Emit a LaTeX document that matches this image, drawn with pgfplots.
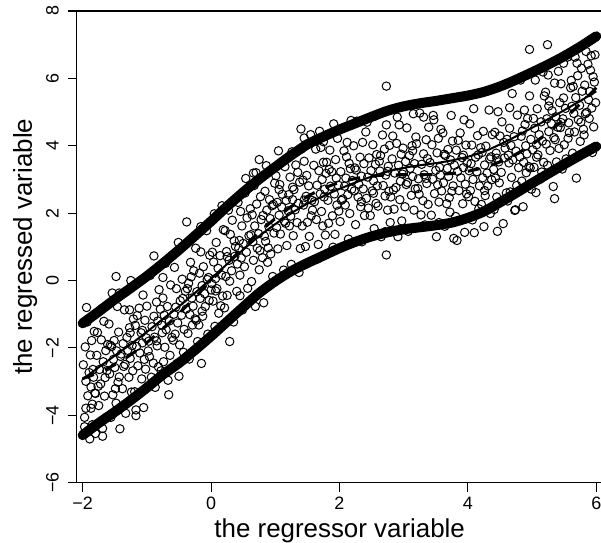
\documentclass[border=0pt]{standalone}
\usepackage{fontspec}
\setmainfont{Liberation Sans}
\usepackage{pgfplots}
\pgfplotsset{compat=1.18}
\begin{document}
\begin{tikzpicture}
\begin{axis}[
  scale only axis,
  width=526bp, height=471.7bp,
  xmin=-2.093, xmax=6.1, ymin=-6, ymax=8,
  axis line style={line width=1.1bp},
  xtick={-2,0,2,4,6}, xticklabels={−2,0,2,4,6},
  ytick={-6,-4,-2,0,2,4,6,8}, yticklabels={−6,−4,−2,0,2,4,6,8},
  tick align=outside, xtick pos=left, ytick pos=left,
  major tick length=9bp,
  tick style={line width=1.1bp, black},
  ticklabel style={font=\fontsize{18}{18}\selectfont},
  xticklabel style={anchor=north, inner sep=0pt, outer sep=0pt, yshift=-5bp},
  yticklabel style={rotate=90, anchor=south, inner sep=0pt, outer sep=9bp},
  xlabel={the regressor variable}, ylabel={the regressed variable},
  label style={font=\fontsize{26}{26}\selectfont},
  xlabel style={at={(axis description cs:0.5,-0.117)}, anchor=base},
  ylabel style={at={(axis description cs:-0.085,0.5)}, anchor=base},
]
\addplot[only marks, mark=o, mark size=4.2bp, mark options={line width=1bp, black}] table[row sep=\\] {
x y\\
-1.99 -2.50\\ -1.97 -4.06\\ -1.96 -1.97\\ -1.95 -2.99\\ -1.93 -1.23\\ -1.92 -3.42\\ -1.90 -2.73\\ -1.89 -4.70\\ -1.88 -2.21\\ -1.87 -3.16\\ -1.86 -1.78\\ -1.85 -3.67\\ -1.84 -2.64\\ -1.83 -2.87\\ -1.82 -1.51\\ -1.81 -3.34\\ -1.94 -0.80\\ -1.85 -4.28\\
-1.80 -3.35\\ -1.78 -2.22\\ -1.77 -1.54\\ -1.75 -3.71\\ -1.74 -2.64\\ -1.72 -3.07\\ -1.71 -1.76\\ -1.69 -4.62\\ -1.68 -2.41\\ -1.67 -1.21\\ -1.66 -3.43\\ -1.65 -2.88\\ -1.64 -2.08\\ -1.63 -4.06\\ -1.62 -2.67\\ -1.61 -1.90\\ -1.76 -3.14\\ -1.70 -0.83\\
-1.59 -1.29\\ -1.58 -2.77\\ -1.56 -4.06\\ -1.55 -1.96\\ -1.53 -3.39\\ -1.52 -2.34\\ -1.51 -1.78\\ -1.50 -2.58\\ -1.48 -3.64\\ -1.47 -2.09\\ -1.46 -0.77\\ -1.45 -3.02\\ -1.44 -1.53\\ -1.43 -2.86\\ -1.42 -4.40\\ -1.41 -2.25\\ -1.57 -1.92\\ -1.49 -3.21\\
-1.40 -2.18\\ -1.38 -3.21\\ -1.37 -1.87\\ -1.35 -0.87\\ -1.34 -2.49\\ -1.33 -3.94\\ -1.31 -1.69\\ -1.30 -2.07\\ -1.28 -2.87\\ -1.27 -1.40\\ -1.26 -2.31\\ -1.25 0.00\\ -1.24 -3.31\\ -1.23 -1.93\\ -1.22 -2.68\\ -1.21 -1.14\\ -1.36 -2.55\\ -1.26 -1.55\\
-1.19 -3.30\\ -1.18 -1.33\\ -1.16 -1.96\\ -1.15 -1.04\\ -1.14 -2.53\\ -1.12 -0.82\\ -1.11 -2.15\\ -1.09 -1.55\\ -1.08 -2.92\\ -1.07 -1.85\\ -1.06 -0.43\\ -1.05 -3.77\\ -1.04 -2.34\\ -1.03 -1.18\\ -1.02 -2.63\\ -1.01 -1.70\\ -1.17 -4.01\\ -1.07 -1.48\\
-1.00 -0.76\\ -0.98 -2.09\\ -0.97 -1.80\\ -0.95 0.15\\ -0.93 -2.87\\ -0.92 -1.37\\ -0.90 -2.45\\ -0.89 -1.06\\ -0.88 -1.68\\ -0.87 -3.17\\ -0.85 -0.64\\ -0.84 -1.94\\ -0.83 -1.20\\ -0.82 -2.56\\ -0.81 -0.27\\ -0.96 -2.26\\ -0.89 0.73\\ -0.85 -1.79\\
-0.61 -1.69\\ -0.63 -0.13\\ -0.64 -2.22\\ -0.65 -1.20\\ -0.67 -2.96\\ -0.68 -0.77\\ -0.70 -1.46\\ -0.71 0.51\\ -0.72 -1.98\\ -0.73 -1.03\\ -0.74 -2.41\\ -0.75 -0.52\\ -0.76 -1.55\\ -0.77 -1.32\\ -0.78 -2.68\\ -0.79 -0.85\\ -0.66 -3.39\\ -0.75 0.09\\
-0.40 -0.32\\ -0.42 -1.45\\ -0.43 -2.13\\ -0.45 0.04\\ -0.46 -1.03\\ -0.48 -0.60\\ -0.49 -1.91\\ -0.51 1.13\\ -0.52 -1.26\\ -0.53 -2.46\\ -0.54 -0.24\\ -0.55 -0.79\\ -0.56 -1.59\\ -0.57 0.39\\ -0.58 -1.00\\ -0.59 -1.77\\ -0.44 -0.53\\ -0.50 -2.84\\
-0.21 -1.81\\ -0.22 -0.33\\ -0.24 0.96\\ -0.25 -1.14\\ -0.27 0.29\\ -0.28 -0.76\\ -0.29 -1.32\\ -0.30 -0.52\\ -0.32 0.54\\ -0.33 -1.01\\ -0.34 -2.33\\ -0.35 -0.08\\ -0.36 -1.57\\ -0.37 -0.24\\ -0.38 1.74\\ -0.39 -0.85\\ -0.23 -1.18\\ -0.31 0.11\\
0.00 -0.28\\ -0.02 0.75\\ -0.03 -0.59\\ -0.05 -1.59\\ -0.06 0.03\\ -0.07 1.48\\ -0.09 -0.77\\ -0.10 -0.39\\ -0.12 0.41\\ -0.13 -1.06\\ -0.14 -0.15\\ -0.15 -2.46\\ -0.16 0.85\\ -0.17 -0.53\\ -0.18 0.22\\ -0.19 -1.32\\ -0.04 0.09\\ -0.14 -0.91\\
0.19 1.51\\ 0.18 -0.46\\ 0.16 0.17\\ 0.15 -0.75\\ 0.14 0.74\\ 0.12 -0.97\\ 0.11 0.36\\ 0.09 -0.24\\ 0.08 1.13\\ 0.07 0.06\\ 0.06 -1.36\\ 0.05 1.98\\ 0.04 0.55\\ 0.03 -0.61\\ 0.02 0.84\\ 0.01 -0.09\\ 0.17 2.22\\ 0.07 -0.31\\
0.40 -0.32\\ 0.38 1.01\\ 0.37 0.72\\ 0.35 -1.23\\ 0.33 1.79\\ 0.32 0.29\\ 0.30 1.37\\ 0.29 -0.02\\ 0.28 0.60\\ 0.27 2.09\\ 0.25 -0.44\\ 0.24 0.86\\ 0.23 0.12\\ 0.22 1.48\\ 0.21 -0.81\\ 0.36 1.18\\ 0.29 -1.81\\ 0.25 0.71\\
0.59 1.33\\ 0.57 -0.23\\ 0.56 1.86\\ 0.55 0.84\\ 0.53 2.60\\ 0.52 0.41\\ 0.50 1.10\\ 0.49 -0.87\\ 0.48 1.62\\ 0.47 0.67\\ 0.46 2.05\\ 0.45 0.16\\ 0.44 1.19\\ 0.43 0.96\\ 0.42 2.32\\ 0.41 0.49\\ 0.54 3.03\\ 0.45 -0.45\\
0.80 0.68\\ 0.78 1.81\\ 0.77 2.49\\ 0.75 0.32\\ 0.74 1.39\\ 0.72 0.96\\ 0.71 2.27\\ 0.69 -0.77\\ 0.68 1.62\\ 0.67 2.82\\ 0.66 0.60\\ 0.65 1.15\\ 0.64 1.95\\ 0.63 -0.03\\ 0.62 1.36\\ 0.61 2.13\\ 0.76 0.89\\ 0.70 3.20\\
0.99 2.89\\ 0.98 1.41\\ 0.96 0.12\\ 0.95 2.22\\ 0.93 0.79\\ 0.92 1.84\\ 0.91 2.40\\ 0.90 1.60\\ 0.88 0.54\\ 0.87 2.09\\ 0.86 3.41\\ 0.85 1.16\\ 0.84 2.65\\ 0.83 1.32\\ 0.82 -0.66\\ 0.81 1.93\\ 0.97 2.26\\ 0.89 0.97\\
1.20 2.07\\ 1.18 1.04\\ 1.17 2.38\\ 1.15 3.38\\ 1.14 1.76\\ 1.13 0.31\\ 1.11 2.56\\ 1.10 2.18\\ 1.08 1.38\\ 1.07 2.85\\ 1.06 1.94\\ 1.05 3.85\\ 1.04 0.94\\ 1.03 2.32\\ 1.02 1.57\\ 1.01 3.11\\ 1.16 1.70\\ 1.06 2.70\\
1.39 0.95\\ 1.38 2.92\\ 1.36 2.29\\ 1.35 3.21\\ 1.34 1.72\\ 1.32 3.43\\ 1.31 2.10\\ 1.29 2.70\\ 1.28 1.33\\ 1.27 2.40\\ 1.26 3.82\\ 1.25 0.48\\ 1.24 1.91\\ 1.23 3.07\\ 1.22 1.62\\ 1.21 2.55\\ 1.37 0.24\\ 1.27 2.77\\
1.60 3.42\\ 1.58 2.09\\ 1.57 2.38\\ 1.55 4.33\\ 1.53 1.31\\ 1.52 2.81\\ 1.50 1.73\\ 1.49 3.12\\ 1.48 2.50\\ 1.47 1.01\\ 1.45 3.54\\ 1.44 2.24\\ 1.43 2.98\\ 1.42 1.62\\ 1.41 3.91\\ 1.56 1.92\\ 1.49 4.05\\ 1.45 2.39\\
1.61 2.34\\ 1.63 3.90\\ 1.64 1.81\\ 1.65 2.83\\ 1.67 1.07\\ 1.68 3.26\\ 1.70 2.57\\ 1.71 3.95\\ 1.72 2.05\\ 1.73 3.00\\ 1.74 1.62\\ 1.75 3.51\\ 1.76 2.48\\ 1.77 2.71\\ 1.78 1.35\\ 1.79 3.18\\ 1.66 0.64\\ 1.75 4.12\\
1.80 3.51\\ 1.82 2.38\\ 1.83 1.70\\ 1.85 3.87\\ 1.86 2.80\\ 1.88 3.23\\ 1.89 1.92\\ 1.91 4.65\\ 1.92 2.57\\ 1.93 1.37\\ 1.94 3.59\\ 1.95 3.04\\ 1.96 2.24\\ 1.97 4.22\\ 1.98 2.83\\ 1.99 2.06\\ 1.84 3.30\\ 1.90 0.99\\
2.01 1.75\\ 2.02 3.23\\ 2.04 4.52\\ 2.05 2.42\\ 2.07 3.85\\ 2.08 2.80\\ 2.09 2.24\\ 2.10 3.04\\ 2.12 4.10\\ 2.13 2.55\\ 2.14 1.23\\ 2.15 3.48\\ 2.16 1.99\\ 2.17 3.32\\ 2.18 4.75\\ 2.19 2.71\\ 2.03 2.38\\ 2.11 3.67\\
2.20 2.97\\ 2.22 4.00\\ 2.23 2.66\\ 2.25 1.66\\ 2.26 3.28\\ 2.27 4.73\\ 2.29 2.48\\ 2.30 2.86\\ 2.32 3.66\\ 2.33 2.19\\ 2.34 3.10\\ 2.35 1.15\\ 2.36 4.10\\ 2.37 2.72\\ 2.38 3.47\\ 2.39 1.93\\ 2.24 3.34\\ 2.34 2.34\\
2.41 4.41\\ 2.42 2.44\\ 2.44 3.07\\ 2.45 2.15\\ 2.46 3.64\\ 2.48 1.93\\ 2.49 3.26\\ 2.51 2.66\\ 2.52 4.03\\ 2.53 2.96\\ 2.54 1.54\\ 2.55 4.88\\ 2.56 3.45\\ 2.57 2.29\\ 2.58 3.74\\ 2.59 2.81\\ 2.43 4.70\\ 2.53 2.59\\
2.60 2.21\\ 2.62 3.54\\ 2.63 3.25\\ 2.65 1.30\\ 2.67 4.32\\ 2.68 2.82\\ 2.70 3.90\\ 2.71 2.51\\ 2.72 3.13\\ 2.73 4.62\\ 2.75 2.09\\ 2.76 3.39\\ 2.77 2.65\\ 2.78 4.01\\ 2.79 1.72\\ 2.64 3.71\\ 2.71 1.45\\ 2.75 3.24\\
2.80 2.48\\ 2.82 3.61\\ 2.83 4.29\\ 2.85 2.12\\ 2.86 3.19\\ 2.88 2.76\\ 2.89 4.07\\ 2.91 1.30\\ 2.92 3.42\\ 2.93 4.62\\ 2.94 2.40\\ 2.95 2.95\\ 2.96 3.75\\ 2.97 1.77\\ 2.98 3.16\\ 2.99 3.93\\ 2.84 2.69\\ 2.90 4.85\\
3.00 3.22\\ 3.02 2.19\\ 3.03 3.53\\ 3.05 4.53\\ 3.06 2.91\\ 3.07 1.46\\ 3.09 3.71\\ 3.10 3.33\\ 3.12 2.53\\ 3.13 4.00\\ 3.14 3.09\\ 3.15 4.95\\ 3.16 2.09\\ 3.17 3.47\\ 3.18 2.72\\ 3.19 4.26\\ 3.04 2.85\\ 3.14 3.85\\
3.20 4.06\\ 3.22 2.73\\ 3.23 3.02\\ 3.25 4.97\\ 3.27 1.95\\ 3.28 3.45\\ 3.30 2.37\\ 3.31 3.76\\ 3.32 3.14\\ 3.33 1.65\\ 3.35 4.18\\ 3.36 2.88\\ 3.37 3.62\\ 3.38 2.26\\ 3.39 4.55\\ 3.24 2.56\\ 3.31 4.85\\ 3.35 3.03\\
3.41 3.50\\ 3.43 1.94\\ 3.44 4.03\\ 3.45 3.01\\ 3.47 4.77\\ 3.48 2.58\\ 3.50 3.27\\ 3.51 1.30\\ 3.52 3.79\\ 3.53 2.84\\ 3.54 4.22\\ 3.55 2.33\\ 3.56 3.36\\ 3.57 3.13\\ 3.58 4.49\\ 3.59 2.66\\ 3.46 4.90\\ 3.55 1.72\\
3.61 4.38\\ 3.62 2.90\\ 3.64 1.61\\ 3.65 3.71\\ 3.67 2.28\\ 3.68 3.33\\ 3.69 3.89\\ 3.70 3.09\\ 3.72 2.03\\ 3.73 3.58\\ 3.74 4.90\\ 3.75 2.65\\ 3.76 4.14\\ 3.77 2.81\\ 3.78 1.25\\ 3.79 3.42\\ 3.63 3.75\\ 3.71 2.46\\
3.81 1.90\\ 3.82 3.87\\ 3.84 3.24\\ 3.85 4.16\\ 3.86 2.67\\ 3.88 4.38\\ 3.89 3.05\\ 3.91 3.65\\ 3.92 2.28\\ 3.93 3.35\\ 3.94 4.77\\ 3.95 1.43\\ 3.96 2.86\\ 3.97 4.02\\ 3.98 2.57\\ 3.99 3.50\\ 3.83 1.19\\ 3.93 3.72\\
4.20 3.94\\ 4.18 2.81\\ 4.17 2.13\\ 4.15 4.30\\ 4.14 3.23\\ 4.12 3.66\\ 4.11 2.35\\ 4.09 5.10\\ 4.08 3.00\\ 4.07 1.80\\ 4.06 4.02\\ 4.05 3.47\\ 4.04 2.67\\ 4.03 4.65\\ 4.02 3.26\\ 4.01 2.49\\ 4.16 3.73\\ 4.10 1.42\\
4.40 3.30\\ 4.38 4.33\\ 4.37 2.99\\ 4.35 1.99\\ 4.34 3.61\\ 4.33 5.06\\ 4.31 2.81\\ 4.30 3.19\\ 4.28 3.99\\ 4.27 2.52\\ 4.26 3.43\\ 4.25 1.60\\ 4.24 4.43\\ 4.23 3.05\\ 4.22 3.80\\ 4.21 2.26\\ 4.36 3.67\\ 4.26 2.67\\
4.60 2.60\\ 4.58 3.93\\ 4.57 3.64\\ 4.55 1.69\\ 4.53 4.71\\ 4.52 3.21\\ 4.50 4.29\\ 4.49 2.90\\ 4.48 3.52\\ 4.47 5.01\\ 4.45 2.48\\ 4.44 3.78\\ 4.43 3.04\\ 4.42 4.40\\ 4.41 2.11\\ 4.56 4.10\\ 4.46 1.46\\ 4.45 3.63\\
4.79 3.35\\ 4.77 4.91\\ 4.76 2.82\\ 4.75 3.84\\ 4.73 2.08\\ 4.72 4.27\\ 4.70 3.58\\ 4.69 5.55\\ 4.68 3.06\\ 4.67 4.01\\ 4.66 2.63\\ 4.65 4.52\\ 4.64 3.49\\ 4.63 3.72\\ 4.62 2.36\\ 4.61 4.19\\ 4.74 2.10\\ 4.65 5.13\\
4.99 2.71\\ 4.98 4.19\\ 4.96 5.48\\ 4.95 3.38\\ 4.93 4.81\\ 4.92 3.76\\ 4.91 3.20\\ 4.90 4.00\\ 4.88 5.06\\ 4.87 3.51\\ 4.86 2.19\\ 4.85 4.44\\ 4.84 2.95\\ 4.83 4.28\\ 4.82 5.95\\ 4.81 3.67\\ 4.97 3.34\\ 4.89 4.63\\
5.19 5.48\\ 5.18 3.51\\ 5.16 4.14\\ 5.15 3.22\\ 5.14 4.71\\ 5.12 3.00\\ 5.11 4.33\\ 5.09 3.73\\ 5.08 5.10\\ 5.07 4.03\\ 5.06 2.61\\ 5.05 5.95\\ 5.04 4.52\\ 5.03 3.36\\ 5.02 4.81\\ 5.01 3.88\\ 5.17 6.19\\ 5.07 3.66\\
5.40 4.55\\ 5.38 3.52\\ 5.37 4.86\\ 5.35 5.86\\ 5.34 4.24\\ 5.33 2.79\\ 5.31 5.04\\ 5.30 4.66\\ 5.28 3.86\\ 5.27 5.33\\ 5.26 4.42\\ 5.25 6.10\\ 5.24 3.42\\ 5.23 4.80\\ 5.22 4.05\\ 5.21 5.59\\ 5.36 4.18\\ 5.26 5.18\\
5.60 5.72\\ 5.58 4.39\\ 5.57 4.68\\ 5.55 6.63\\ 5.53 3.61\\ 5.52 5.11\\ 5.50 4.03\\ 5.49 5.42\\ 5.48 4.80\\ 5.47 3.31\\ 5.45 5.84\\ 5.44 4.54\\ 5.43 5.28\\ 5.42 3.92\\ 5.41 6.21\\ 5.56 4.22\\ 5.49 6.45\\ 5.45 4.69\\
5.80 4.49\\ 5.78 5.62\\ 5.77 6.30\\ 5.75 4.13\\ 5.74 5.20\\ 5.72 4.77\\ 5.71 6.08\\ 5.69 3.04\\ 5.68 5.43\\ 5.67 6.63\\ 5.66 4.41\\ 5.65 4.96\\ 5.64 5.76\\ 5.63 3.78\\ 5.62 5.17\\ 5.61 5.94\\ 5.76 4.70\\ 5.70 6.45\\
5.81 4.32\\ 5.82 5.80\\ 5.84 6.80\\ 5.85 4.99\\ 5.87 6.42\\ 5.88 5.37\\ 5.89 4.81\\ 5.90 5.61\\ 5.92 6.67\\ 5.93 5.12\\ 5.94 3.80\\ 5.95 6.05\\ 5.96 4.56\\ 5.97 5.89\\ 5.98 6.70\\ 5.99 5.28\\ 5.83 4.95\\ 5.91 6.24\\
4.96 6.86\\ 5.24 7.00\\ 2.73 5.77\\ 1.40 4.50\\ 1.69 4.43\\ 1.45 4.23\\ 0.75 3.59\\ 0.66 3.19\\ -0.16 1.60\\ -1.48 0.12\\ -1.54 -0.37\\ -1.43 -0.37\\ -1.27 -0.87\\ -1.17 -3.84\\ -1.95 -3.79\\ -1.87 -3.79\\ -1.80 -4.54\\ -1.69 -4.39\\ -1.97 -4.34\\ 5.35 2.43\\ 2.73 0.76\\
};
% upper band
\addplot[black, line width=10bp, smooth, line cap=round] table[row sep=\\] {
x y\\ -2.00 -1.27\\ -1.75 -0.92\\ -1.50 -0.56\\ -1.25 -0.22\\ -1.00 0.13\\ -0.75 0.51\\ -0.50 0.91\\ -0.25 1.33\\ 0.00 1.76\\ 0.25 2.20\\ 0.50 2.62\\ 0.75 3.01\\ 1.00 3.37\\ 1.25 3.72\\ 1.50 4.04\\ 1.75 4.27\\ 2.00 4.48\\ 2.25 4.67\\ 2.50 4.86\\ 2.75 5.04\\ 3.00 5.17\\ 3.25 5.26\\ 3.50 5.33\\ 3.75 5.41\\ 4.00 5.49\\ 4.25 5.60\\ 4.50 5.76\\ 4.75 5.96\\ 5.00 6.18\\ 5.25 6.41\\ 5.50 6.66\\ 5.75 6.94\\ 6.00 7.25\\
};
% lower band
\addplot[black, line width=10bp, smooth, line cap=round] table[row sep=\\] {
x y\\ -2.00 -4.59\\ -1.75 -4.23\\ -1.50 -3.90\\ -1.25 -3.55\\ -1.00 -3.18\\ -0.75 -2.79\\ -0.50 -2.45\\ -0.25 -2.06\\ 0.00 -1.65\\ 0.25 -1.22\\ 0.50 -0.79\\ 0.75 -0.37\\ 1.00 -0.02\\ 1.25 0.28\\ 1.50 0.52\\ 1.75 0.74\\ 2.00 0.96\\ 2.25 1.15\\ 2.50 1.31\\ 2.75 1.43\\ 3.00 1.52\\ 3.25 1.58\\ 3.50 1.64\\ 3.75 1.72\\ 4.00 1.86\\ 4.25 2.05\\ 4.50 2.32\\ 4.75 2.60\\ 5.00 2.89\\ 5.25 3.17\\ 5.50 3.45\\ 5.75 3.72\\ 6.00 3.98\\
};
% estimated curve
\addplot[black, line width=2bp, smooth] table[row sep=\\] {
x y\\ -2.00 -2.93\\ -1.75 -2.575\\ -1.50 -2.23\\ -1.25 -1.885\\ -1.00 -1.525\\ -0.75 -1.14\\ -0.50 -0.77\\ -0.25 -0.365\\ 0.00 0.055\\ 0.25 0.49\\ 0.50 0.915\\ 0.75 1.32\\ 1.00 1.675\\ 1.25 2.00\\ 1.50 2.28\\ 1.75 2.505\\ 2.00 2.72\\ 2.25 2.91\\ 2.50 3.085\\ 2.75 3.235\\ 3.00 3.345\\ 3.25 3.42\\ 3.50 3.485\\ 3.75 3.565\\ 4.00 3.675\\ 4.25 3.825\\ 4.50 4.04\\ 4.75 4.28\\ 5.00 4.535\\ 5.25 4.79\\ 5.50 5.055\\ 5.75 5.33\\ 6.00 5.615\\
};
% true curve (dashed)
\addplot[black, line width=3bp, smooth, dash pattern=on 12bp off 12bp] table[row sep=\\] {
x y\\ -2.00 -2.909\\ -1.75 -2.734\\ -1.50 -2.497\\ -1.25 -2.199\\ -1.00 -1.841\\ -0.75 -1.432\\ -0.50 -0.979\\ -0.25 -0.497\\ 0.00 0.000\\ 0.25 0.497\\ 0.50 0.979\\ 0.75 1.432\\ 1.00 1.841\\ 1.25 2.199\\ 1.50 2.497\\ 1.75 2.734\\ 2.00 2.909\\ 2.25 3.028\\ 2.50 3.098\\ 2.75 3.132\\ 3.00 3.141\\ 3.25 3.142\\ 3.50 3.149\\ 3.75 3.178\\ 4.00 3.243\\ 4.25 3.355\\ 4.50 3.522\\ 4.75 3.751\\ 5.00 4.041\\ 5.25 4.391\\ 5.50 4.795\\ 5.75 5.242\\ 6.00 5.721\\
};
\end{axis}
\pgfresetboundingbox
\path[use as bounding box] (-76.7bp,-60.3bp) rectangle (524.3bp,482.7bp);
\end{tikzpicture}
\end{document}
